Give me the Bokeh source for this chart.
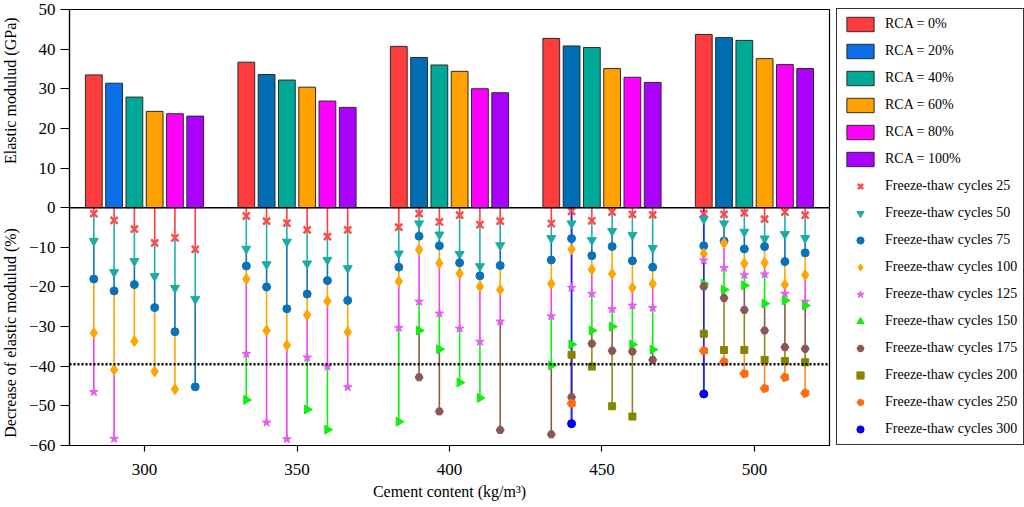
import numpy as np
from bokeh.plotting import figure
from bokeh.layouts import row
from bokeh.models import (ColumnDataSource, FixedTicker, Span, Legend,
                          LegendItem, Range1d)
from bokeh.core.properties import value
from bokeh.transform import dodge
from bokeh.embed import file_html
from bokeh.resources import INLINE

nan = float("nan")

# ---------------- data ----------------
cement = [300, 350, 400, 450, 500]
rca_labels = ["RCA = 0%", "RCA = 20%", "RCA = 40%", "RCA = 60%", "RCA = 80%", "RCA = 100%"]

# elastic modulus (GPa) for each RCA replacement, per cement content
modulus_rca0 = [33.5, 36.7, 40.7, 42.7, 43.7]
modulus_rca20 = [31.4, 33.6, 37.9, 40.8, 42.9]
modulus_rca40 = [27.9, 32.2, 36.0, 40.4, 42.2]
modulus_rca60 = [24.3, 30.4, 34.4, 35.1, 37.6]
modulus_rca80 = [23.7, 26.9, 30.0, 32.9, 36.1]
modulus_rca100 = [23.1, 25.3, 29.0, 31.6, 35.1]

cycle_labels = ["Freeze-thaw cycles 25", "Freeze-thaw cycles 50", "Freeze-thaw cycles 75",
                "Freeze-thaw cycles 100", "Freeze-thaw cycles 125", "Freeze-thaw cycles 150",
                "Freeze-thaw cycles 175", "Freeze-thaw cycles 200", "Freeze-thaw cycles 250",
                "Freeze-thaw cycles 300"]

# decrease of elastic modulus (%) ; order: cement 300..500, each RCA 0..100
dec_25 = [-1.5, -3.2, -5.4, -8.9, -7.6, -10.5,
          -2.1, -3.4, -3.9, -5.6, -7.3, -5.6,
          -4.9, -1.5, -3.6, -1.9, -4.3, -3.4,
          -4.0, -0.9, -3.3, -1.1, -1.7, -1.8,
          -1.5, -1.7, -1.3, -2.9, -1.1, -1.9]
dec_50 = [-8.4, -16.3, -13.5, -17.3, -20.3, -23.1,
          -10.4, -14.3, -8.6, -14.1, -13.2, -15.3,
          -11.6, -4.0, -6.8, -11.7, -14.8, -9.5,
          -7.7, -4.0, -8.2, -5.9, -6.9, -10.2,
          -2.9, -4.0, -6.1, -7.8, -6.7, -7.7]
dec_75 = [-18.0, -21.0, -19.4, -25.2, -31.3, -45.2,
          -14.7, -20.0, -25.5, -21.8, -18.4, -23.4,
          -15.0, -7.2, -9.6, -13.9, -17.2, -14.6,
          -13.2, -7.8, -12.1, -9.8, -13.4, -15.0,
          -9.6, -8.4, -10.4, -9.8, -13.6, -11.4]
dec_100 = [-31.6, -40.9, -33.7, -41.3, -45.8, nan,
           -18.0, -31.0, -34.7, -27.1, -23.6, -31.4,
           -18.6, -10.6, -14.0, -16.6, -19.9, -20.7,
           -19.2, -10.5, -15.6, -16.7, -20.2, -19.2,
           -11.6, -8.9, -14.1, -13.9, -19.4, -17.0]
dec_125 = [-46.5, -58.3, nan, nan, nan, nan,
           -36.9, -54.2, -58.4, -37.8, -40.1, -45.3,
           -30.3, -23.7, -26.7, -30.5, -33.8, -28.7,
           -27.4, -20.2, -21.7, -25.6, -24.7, -25.3,
           -13.3, -15.2, -17.0, -16.8, -21.7, -23.7]
dec_150 = [nan, nan, nan, nan, nan, nan,
           -48.5, nan, nan, -50.9, -56.0, nan,
           -54.0, -31.0, -35.7, -44.1, -48.0, nan,
           -39.8, -34.5, -31.0, -30.0, -34.5, -35.8,
           -19.2, -20.7, -19.6, -24.2, -23.4, -24.7]
dec_175 = [nan, nan, nan, nan, nan, nan,
           nan, nan, nan, nan, nan, nan,
           nan, -42.8, -51.4, nan, nan, -56.1,
           -57.2, -47.8, -34.3, -36.1, -36.3, -38.4,
           -19.9, -22.8, -25.8, -31.0, -35.2, -35.6]
dec_200 = [nan, nan, nan, nan, nan, nan,
           nan, nan, nan, nan, nan, nan,
           nan, nan, nan, nan, nan, nan,
           nan, -37.1, -40.1, -50.1, -52.7, nan,
           -31.8, -35.9, -35.9, -38.4, -38.7, -39.0]
dec_250 = [nan, nan, nan, nan, nan, nan,
           nan, nan, nan, nan, nan, nan,
           nan, nan, nan, nan, nan, nan,
           nan, -49.4, nan, nan, nan, nan,
           -36.1, -38.9, -41.9, -45.6, -42.8, -46.8]
dec_300 = [nan, nan, nan, nan, nan, nan,
           nan, nan, nan, nan, nan, nan,
           nan, nan, nan, nan, nan, nan,
           nan, -54.5, nan, nan, nan, nan,
           -47.0, nan, nan, nan, nan, nan]

threshold = -39.5

y_titles = ["Elastic modulud (GPa)", "Decrease of elastic modulud (%)"]
y_title_pos = [29.5, -31.6]

# ---------------- styles ----------------
FONT = "Liberation Serif"
modulus = [modulus_rca0, modulus_rca20, modulus_rca40, modulus_rca60, modulus_rca80, modulus_rca100]
decrease = [dec_25, dec_50, dec_75, dec_100, dec_125, dec_150, dec_175, dec_200, dec_250, dec_300]
bar_colors = ["#FF3C3C", "#006EB4", "#00A898", "#FFA200", "#FF00FF", "#AA00FF"]
blue_first = "#0A6EE8"
step = 6.65
offsets = [(i - 2.5) * step for i in range(6)]
bar_width = 5.5
X0, X1 = 275.4, 524.6
FRAME_W, FRAME_H = 760, 436
TOP = 9
LAB_W = 22

mk = [  # marker, fill, line, size, seg line color
    ("x", "#FF4848", "#FF4848", 10, "#FF4040"),
    ("inverted_triangle", "#1AADA3", "#1AADA3", 9, "#22B0A8"),
    ("circle", "#0A72BA", "#0A72BA", 8, "#0A72BA"),
    ("diamond", "#FFA500", "#FFA500", 11, "#FFA500"),
    ("star", "#E85AF0", "#E85AF0", 9, "#F040F0"),
    ("triangle", "#11EE11", "#11EE11", 9, "#11EE11"),
    ("hex", "#8B5656", "#8B5656", 8, "#8B5A4A"),
    ("square", "#858500", "#858500", 7, "#8C8C10"),
    ("pentagon", "#FF6A10", "#FF6A10", 8, "#FF8A20"),
    ("circle", "#0000FF", "#0000CC", 8, "#2020FF"),
]

yr = Range1d(-60, 50)
p = figure(frame_width=FRAME_W, frame_height=FRAME_H, x_range=Range1d(X0, X1),
           y_range=yr, output_backend="svg", toolbar_location=None,
           min_border_left=69 - LAB_W, min_border_top=TOP, min_border_bottom=0,
           min_border_right=195)
p.xgrid.visible = False
p.ygrid.visible = False
p.outline_line_color = "black"
p.outline_line_width = 1.2
p.outline_line_alpha = 1.0
p.background_fill_color = "white"

for ax in (p.xaxis[0], p.yaxis[0]):
    ax.axis_line_color = "black"
    ax.axis_line_width = 1.2
    ax.major_tick_line_color = "black"
    ax.major_tick_line_width = 1.2
    ax.minor_tick_line_color = None
    ax.major_tick_in = 0
    ax.major_label_text_font = FONT
    ax.major_label_text_font_size = "17px"
    ax.major_label_text_color = "black"
p.yaxis.major_tick_out = 9
p.yaxis.major_label_standoff = 5
p.xaxis.major_tick_out = 6
p.xaxis.major_label_standoff = 12
p.yaxis.ticker = FixedTicker(ticks=list(range(-60, 51, 10)))
p.xaxis.ticker = FixedTicker(ticks=cement)
p.xaxis.axis_label = "Cement content (kg/m³)"
p.xaxis.axis_label_text_font = FONT
p.xaxis.axis_label_text_font_size = "16px"
p.xaxis.axis_label_text_font_style = "normal"
p.xaxis.axis_label_text_color = "black"
p.xaxis.axis_label_standoff = 5

# ---------------- bars ----------------
bar_renderers = []
for i, vals in enumerate(modulus):
    cols = [bar_colors[i]] * len(cement)
    if i == 1:
        cols[0] = blue_first
    src = ColumnDataSource(dict(cement=cement, modulus=vals, color=cols))
    r = p.vbar(x=dodge("cement", offsets[i]), top="modulus", bottom=0, width=bar_width,
               fill_color="color", line_color="#2A2A2A", line_width=1, source=src)
    bar_renderers.append(r)

p.add_layout(Span(location=0, dimension="width", line_color="black", line_width=1.5))
p.add_layout(Span(location=threshold, dimension="width", line_color="black",
                  line_width=2.5, line_dash="2 2"))

# ---------------- drop lines ----------------
xpos = np.array([c + o for c in cement for o in offsets])
prev = np.zeros(len(xpos))
for k, vals in enumerate(decrease):
    v = np.array(vals, dtype=float)
    m = ~np.isnan(v)
    p.segment(x0=xpos[m], y0=prev[m], x1=xpos[m], y1=v[m], line_color=mk[k][4], line_width=1.6)
    prev = np.where(m, v, prev)
v300 = np.array(dec_300, dtype=float)
m300 = ~np.isnan(v300)
p.segment(x0=xpos[m300], y0=np.zeros(m300.sum()), x1=xpos[m300], y1=v300[m300],
          line_color=mk[9][4], line_width=1.6)

# ---------------- markers ----------------
marker_renderers = []
for k, vals in enumerate(decrease):
    v = np.array(vals, dtype=float)
    m = ~np.isnan(v)
    src = ColumnDataSource(dict(x=xpos[m], y=v[m]))
    marker, fill, line, size, _ = mk[k]
    if marker == "pentagon":
        try:
            r = p.ngon(x="x", y="y", radius=4.5, radius_units="screen", n=5, angle=np.pi / 2,
                       fill_color=fill, line_color=fill, source=src)
        except Exception:
            r = p.scatter(x="x", y="y", marker="hex", size=size, fill_color=fill,
                          line_color=fill, source=src)
    elif marker == "triangle":
        r = p.scatter(x="x", y="y", marker="triangle", angle=-np.pi / 2, size=size,
                      fill_color=fill, line_color=line, source=src)
    elif marker == "x":
        r = p.scatter(x="x", y="y", marker="x", size=size, line_color=line, line_width=2.4,
                      source=src)
    else:
        r = p.scatter(x="x", y="y", marker=marker, size=size, fill_color=fill,
                      line_color=line, source=src)
    marker_renderers.append(r)

# ---------------- legend ----------------
items = [LegendItem(label=l, renderers=[r]) for l, r in zip(rca_labels, bar_renderers)]
items += [LegendItem(label=l, renderers=[r]) for l, r in zip(cycle_labels, marker_renderers)]
legend = Legend(items=items, location=(7, 0), margin=0, padding=6, spacing=9,
                glyph_width=34, glyph_height=18, label_height=18, label_standoff=8,
                label_text_font=FONT, label_text_font_size="14px", label_text_color="black",
                border_line_color="#333333", border_line_width=1.2, border_line_alpha=1.0)
p.add_layout(legend, "right")

# ---------------- y axis titles (narrow strip left of the plot) ----------------
lab = figure(frame_width=LAB_W, frame_height=FRAME_H, x_range=Range1d(0, LAB_W), y_range=yr,
             x_axis_type=None, y_axis_type=None, output_backend="svg", toolbar_location=None,
             min_border_left=0, min_border_right=0, min_border_top=TOP, min_border_bottom=0)
lab.outline_line_color = None
lab.xgrid.visible = False
lab.ygrid.visible = False
lab.text(x=[10, 10], y=y_title_pos, text=y_titles, angle=np.pi / 2,
         text_align="center", text_baseline="middle", text_font=value(FONT),
         text_font_size="16px", text_color="black")

layout = row(lab, p)
open("out.html", "w").write(file_html(layout, INLINE))
